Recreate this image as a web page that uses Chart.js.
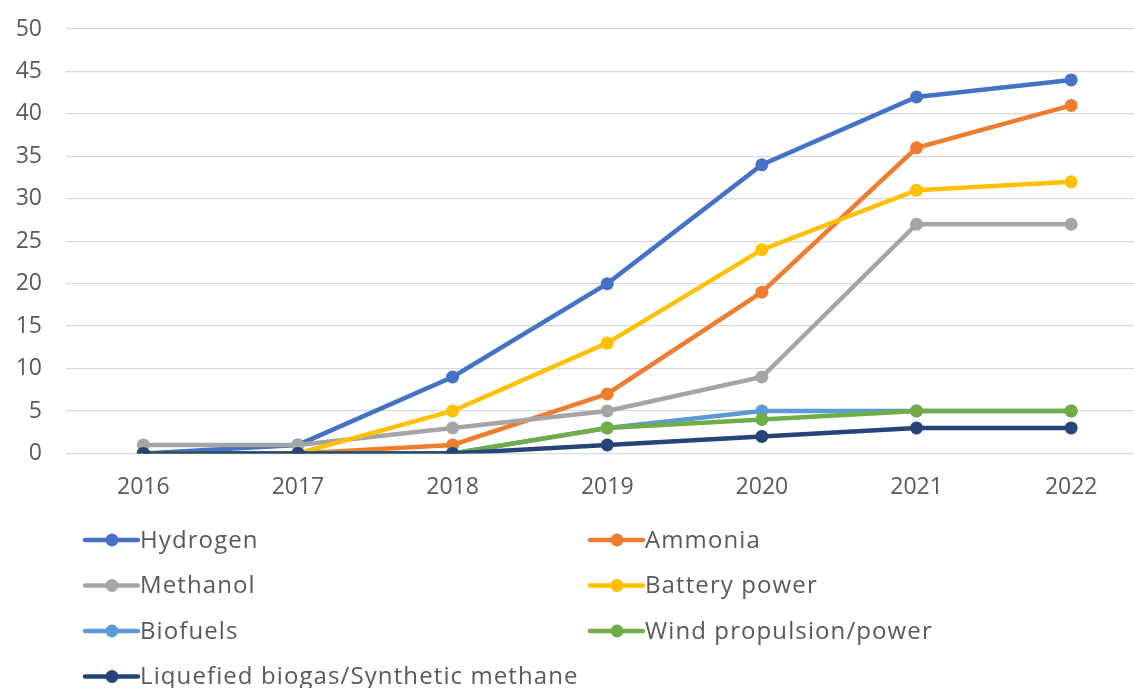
<!DOCTYPE html>
<html>
<head>
<meta charset="utf-8">
<script src="https://cdn.jsdelivr.net/npm/chart.js@4.4.0/dist/chart.umd.min.js"></script>
<style>
  html, body { margin: 0; padding: 0; background: #fff; overflow: hidden; }
  #wrap { width: 1155px; height: 688px; }
</style>
</head>
<body>
<div id="wrap"><canvas id="fuelChart" width="1155" height="688"></canvas></div>
<script>
// years on the x axis
var years = ['2016', '2017', '2018', '2019', '2020', '2021', '2022'];

// series
var hydrogen = [0, 1, 9, 20, 34, 42, 44];
var ammonia = [0, 0, 1, 7, 19, 36, 41];
var methanol = [1, 1, 3, 5, 9, 27, 27];
var battery = [0, 0, 5, 13, 24, 31, 32];
var biofuels = [0, 0, 0, 3, 5, 5, 5];
var wind = [0, 0, 0, 3, 4, 5, 5];
var lbg = [0, 0, 0, 1, 2, 3, 3];

var seriesNames = ['Hydrogen', 'Ammonia', 'Methanol', 'Battery power', 'Biofuels',
    'Wind propulsion/power', 'Liquefied biogas/Synthetic methane'];
var seriesData = [hydrogen, ammonia, methanol, battery, biofuels, wind, lbg];
var seriesColors = ['#4472C4', '#ED7D31', '#A5A5A5', '#FFC000', '#5B9BD5', '#70AD47', '#264478'];

var yTicks = [0, 5, 10, 15, 20, 25, 30, 35, 40, 45, 50];

var textColor = '#595959';
var fontFamily = '"Open Sans", sans-serif';

var datasets = seriesNames.map(function (name, i) {
    return {
        label: name,
        data: seriesData[i],
        borderColor: seriesColors[i],
        backgroundColor: seriesColors[i],
        borderWidth: 4.5,
        pointRadius: 6.5,
        pointHoverRadius: 6.5,
        pointBorderWidth: 0,
        tension: 0,
        order: seriesNames.length - i   // later series drawn on top, like the original
    };
});

// legend in two columns under the plot
var twoColLegend = {
    id: 'twoColLegend',
    afterDraw: function (chart) {
        var ctx = chart.ctx;
        ctx.save();
        ctx.font = '24px ' + fontFamily;
        ctx.letterSpacing = '1.1px';
        ctx.textBaseline = 'middle';
        ctx.textAlign = 'left';
        chart.data.datasets.forEach(function (ds, i) {
            var col = i % 2;
            var row = Math.floor(i / 2);
            var x = col === 0 ? 85 : 590;
            var y = 540 + row * 45.5;
            ctx.strokeStyle = ds.borderColor;
            ctx.lineWidth = 4.5;
            ctx.lineCap = 'round';
            ctx.beginPath();
            ctx.moveTo(x, y);
            ctx.lineTo(x + 53, y);
            ctx.stroke();
            ctx.fillStyle = ds.borderColor;
            ctx.beginPath();
            ctx.arc(x + 27, y, 6.5, 0, Math.PI * 2);
            ctx.fill();
            ctx.fillStyle = textColor;
            ctx.fillText(ds.label, x + 55, y + 1);
        });
        ctx.restore();
    }
};

var ctx = document.getElementById('fuelChart').getContext('2d');
var chart = new Chart(ctx, {
    type: 'line',
    data: { labels: years, datasets: datasets },
    plugins: [twoColLegend],
    options: {
        responsive: false,
        animation: false,
        layout: { padding: { left: 12, right: 3, top: 29, bottom: 167 } },
        plugins: {
            legend: { display: false },
            tooltip: { enabled: false }
        },
        scales: {
            x: {
                offset: true,
                grid: { display: false, drawTicks: false },
                border: { display: false },
                ticks: {
                    color: textColor,
                    font: { family: fontFamily, size: 23 },
                    padding: 20,
                    maxRotation: 0
                }
            },
            y: {
                min: 0,
                max: 50,
                afterBuildTicks: function (axis) {
                    axis.ticks = yTicks.map(function (v) { return { value: v }; });
                },
                afterFit: function (axis) {
                    axis.width = 54;
                    axis.paddingTop = 0;
                    axis.paddingBottom = 0;
                },
                grid: { color: '#D9D9D9', lineWidth: 1.3, drawTicks: false },
                border: { display: false },
                ticks: {
                    color: textColor,
                    font: { family: fontFamily, size: 23 },
                    padding: 24
                }
            }
        }
    }
});
</script>
</body>
</html>
